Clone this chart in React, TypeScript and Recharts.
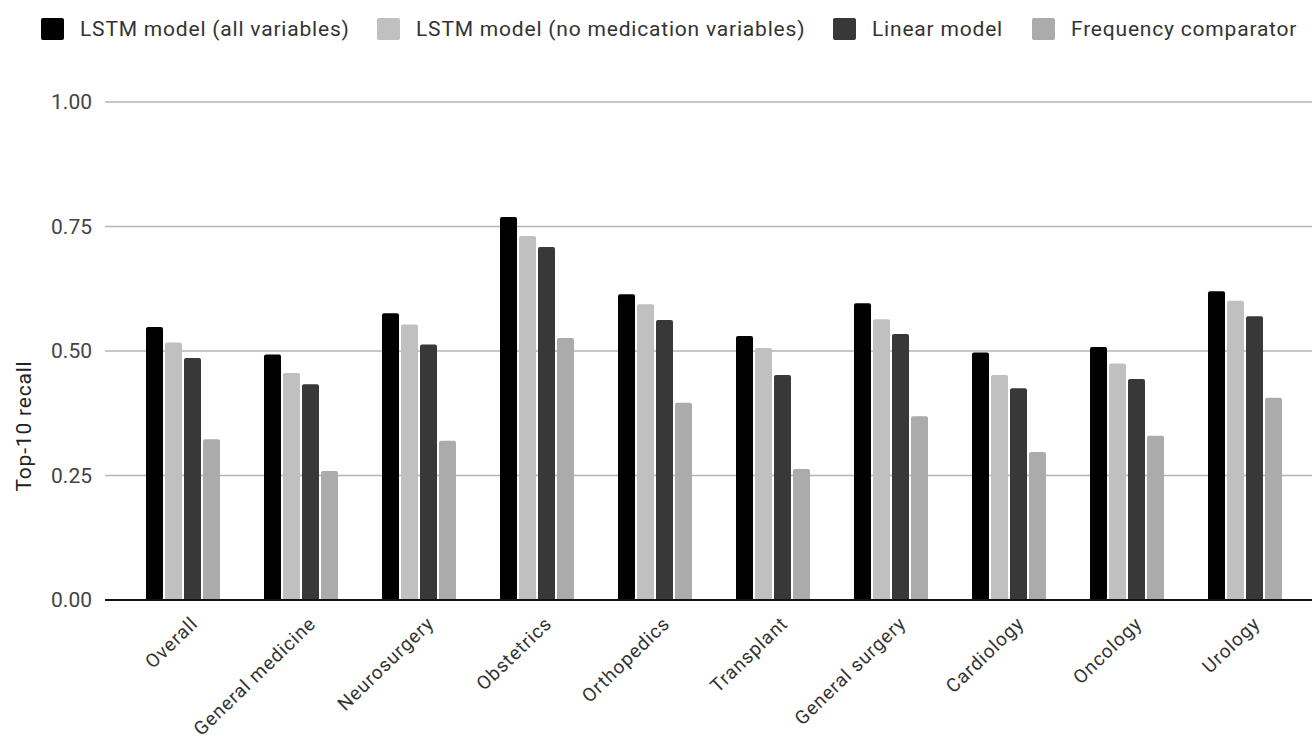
import React from 'react';
import { BarChart, Bar, XAxis, YAxis, CartesianGrid, ReferenceLine } from 'recharts';

const categories = ['Overall', 'General medicine', 'Neurosurgery', 'Obstetrics', 'Orthopedics', 'Transplant', 'General surgery', 'Cardiology', 'Oncology', 'Urology'];
const lstmAll = [0.548, 0.493, 0.576, 0.769, 0.614, 0.530, 0.596, 0.497, 0.508, 0.620];
const lstmNoMed = [0.517, 0.456, 0.553, 0.731, 0.594, 0.506, 0.564, 0.452, 0.475, 0.601];
const linear = [0.486, 0.433, 0.513, 0.709, 0.562, 0.452, 0.534, 0.425, 0.444, 0.570];
const freq = [0.323, 0.259, 0.320, 0.526, 0.396, 0.263, 0.369, 0.297, 0.330, 0.406];
const yTicks = [0, 0.25, 0.5, 0.75, 1];

const series = [
  { key: 'lstmAll', name: 'LSTM model (all variables)', color: '#000000' },
  { key: 'lstmNoMed', name: 'LSTM model (no medication variables)', color: '#c0c0c0' },
  { key: 'linear', name: 'Linear model', color: '#383838' },
  { key: 'freq', name: 'Frequency comparator', color: '#ababab' },
];
const legendLefts = [41, 377, 833, 1032];

const data = categories.map((c, i) => ({
  name: c,
  lstmAll: lstmAll[i],
  lstmNoMed: lstmNoMed[i],
  linear: linear[i],
  freq: freq[i],
}));

const FONT = 'Roboto, "Noto Sans", sans-serif';

const LegendBlock = () => (
  <div style={{ position: 'absolute', left: 0, top: 0, width: 1312, height: 60, fontFamily: FONT, fontSize: 21, letterSpacing: 0.8, color: '#333' }}>
    {series.map((s, i) => (
      <div key={s.key} style={{ position: 'absolute', left: legendLefts[i], top: 17, height: 23, display: 'flex', alignItems: 'center', whiteSpace: 'nowrap' }}>
        <span style={{ display: 'inline-block', width: 23, height: 22, background: s.color, borderRadius: 2, marginRight: 16 }} />
        <span>{s.name}</span>
      </div>
    ))}
  </div>
);

const XTick = (props: any) => {
  const { x, y, payload } = props;
  const tx = x + 16;
  const ty = y + 17;
  return (
    <text x={tx} y={ty} transform={`rotate(-44, ${tx}, ${ty})`} textAnchor="end" fontFamily={FONT} fontSize={19} letterSpacing={0.9} fill="#333">
      {payload.value}
    </text>
  );
};

const YLabel = () => (
  <text x={31} y={426} transform="rotate(-90, 31, 426)" textAnchor="middle" fontFamily={FONT} fontSize={21} letterSpacing={0.8} fill="#222">
    Top-10 recall
  </text>
);

export default function App() {
  return (
    <div style={{ position: 'absolute', left: 0, top: 0, width: 1312, height: 744, background: '#fff' }}>
      <LegendBlock />
      <BarChart
        width={1312}
        height={744}
        data={data}
        margin={{ top: 102, right: 0, left: 0, bottom: 0 }}
        barGap={2}
        barSize={17}
      >
        <CartesianGrid vertical={false} stroke="#b4b4b4" strokeWidth={1.5} />
        <XAxis
          dataKey="name"
          height={144}
          padding={{ left: 19, right: 8 }}
          tickLine={false}
          axisLine={false}
          interval={0}
          tick={<XTick />}
        />
        <YAxis
          width={105}
          domain={[0, 1]}
          ticks={yTicks}
          tickFormatter={(v: number) => v.toFixed(2)}
          tickLine={false}
          axisLine={false}
          tickMargin={7}
          tick={{ fontFamily: FONT, fontSize: 21, fill: '#444' }}
          label={<YLabel />}
        />
        {series.map((s) => (
          <Bar key={s.key} dataKey={s.key} name={s.name} fill={s.color} radius={[2, 2, 0, 0]} isAnimationActive={false} />
        ))}
        <ReferenceLine y={0} stroke="#111" strokeWidth={2} />
      </BarChart>
    </div>
  );
}
